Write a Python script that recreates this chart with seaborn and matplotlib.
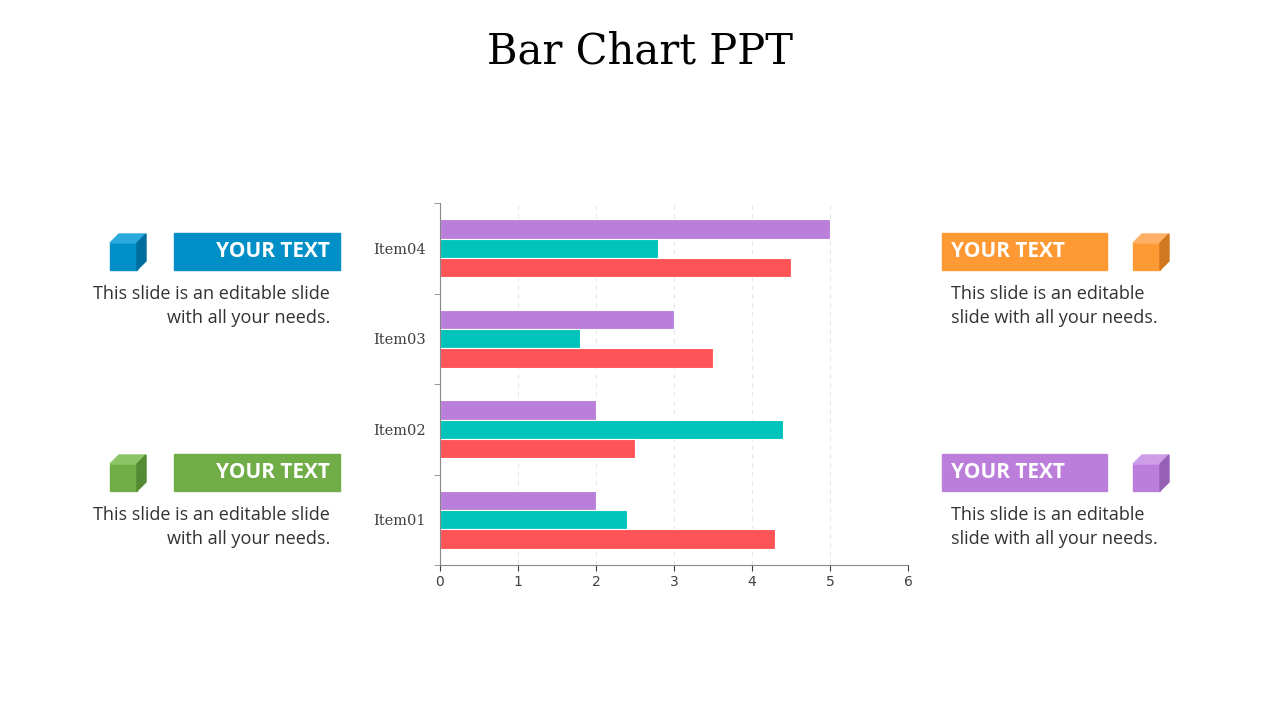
import matplotlib
matplotlib.use("Agg")
import matplotlib.pyplot as plt
import seaborn as sns
import pandas as pd
from matplotlib.patches import Polygon, Rectangle

categories = ["Item04", "Item03", "Item02", "Item01"]
series_names = ["Series 3", "Series 2", "Series 1"]
series3 = [5.0, 3.0, 2.0, 2.0]   # purple
series2 = [2.8, 1.8, 4.4, 2.4]   # teal
series1 = [4.5, 3.5, 2.5, 4.3]   # red
x_ticks = [0, 1, 2, 3, 4, 5, 6]

rows = []
for name, vals in zip(series_names, [series3, series2, series1]):
    for c, v in zip(categories, vals):
        rows.append({"cat": c, "series": name, "val": v})
df = pd.DataFrame(rows)

W, H = 1280, 720
fig = plt.figure(figsize=(12.8, 7.2), dpi=100)
ax = fig.add_axes([440 / W, 1 - 565 / H, 468 / W, 362 / H])
palette = {"Series 3": "#BA7FDB", "Series 2": "#00C4BC", "Series 1": "#FF5457"}
sns.barplot(data=df, y="cat", x="val", hue="series", order=categories,
            hue_order=series_names, palette=palette, orient="h",
            width=0.64, ax=ax, legend=False, saturation=1, linewidth=0.8,
            edgecolor="white")
ax.set_xlim(0, 6)
ax.set_ylim(3.5, -0.5)
ax.set_xticks(x_ticks)
ax.set_xlabel("")
ax.set_ylabel("")
ax.set_yticks(range(4))
ax.set_yticklabels(categories, fontfamily="DejaVu Serif", fontsize=10.5, color="#404040")
ax.set_yticks([-0.5, 0.5, 1.5, 2.5, 3.5], minor=True)
ax.tick_params(axis="y", which="major", length=0, pad=10)
ax.tick_params(axis="y", which="minor", length=4, color="#888888")
ax.tick_params(axis="x", labelsize=10, colors="#404040", length=4)
for s in ["top", "right"]:
    ax.spines[s].set_visible(False)
for s in ["left", "bottom"]:
    ax.spines[s].set_color("#888888")
ax.grid(axis="x", linestyle=(0, (4, 4)), color="#E6E6E6", linewidth=0.8)
ax.set_axisbelow(True)

fig.text(640 / W, 1 - 52 / H, "Bar Chart PPT", ha="center", va="center",
         fontsize=30, fontfamily="DejaVu Serif")

def px(x, y):
    return (x / W, 1 - y / H)

def cube(x0, ytop, color, light, dark):
    s = 27; d = 9
    front = [px(x0, ytop + d), px(x0 + s, ytop + d), px(x0 + s, ytop + d + s), px(x0, ytop + d + s)]
    top = [px(x0, ytop + d), px(x0 + d, ytop), px(x0 + s + d, ytop), px(x0 + s, ytop + d)]
    side = [px(x0 + s, ytop + d), px(x0 + s + d, ytop), px(x0 + s + d, ytop + s), px(x0 + s, ytop + d + s)]
    for poly, c in [(front, color), (top, light), (side, dark)]:
        fig.patches.append(Polygon(poly, closed=True, transform=fig.transFigure, color=c))

def box(x0, x1, y0, y1, color, text, align):
    fig.patches.append(Rectangle(px(x0, y1), (x1 - x0) / W, (y1 - y0) / H,
                                 transform=fig.transFigure, color=color))
    tx = x1 - 10 if align == "right" else x0 + 9
    fig.text(*px(tx, (y0 + y1) / 2), text, ha=align, va="center", color="white",
             fontsize=15, fontweight="bold", fontfamily="Open Sans")

body = "This slide is an editable slide\nwith all your needs."
body_r = "This slide is an editable\nslide with all your needs."
specs = [
    (233, "#008FC7", "#2AA9DD", "#006E9C", "left"),
    (454, "#70AD47", "#8CC366", "#548A33", "left"),
    (233, "#FF9933", "#FFB066", "#D07820", "right"),
    (454, "#BB7FDB", "#CE9DE8", "#9660B5", "right"),
]
for ytop, col, lt, dk, side in specs:
    if side == "left":
        cube(110, ytop + 1, col, lt, dk)
        box(174, 340, ytop, ytop + 37, col, "YOUR TEXT", "right")
        fig.text(*px(330, ytop + 52), body, ha="right", va="top", fontsize=13,
                 fontfamily="Open Sans", color="#333333", linespacing=1.45)
    else:
        cube(1133, ytop + 1, col, lt, dk)
        box(942, 1107, ytop, ytop + 37, col, "YOUR TEXT", "left")
        fig.text(*px(951, ytop + 52), body_r, ha="left", va="top", fontsize=13,
                 fontfamily="Open Sans", color="#333333", linespacing=1.45)

fig.savefig("out.png", dpi=100)
